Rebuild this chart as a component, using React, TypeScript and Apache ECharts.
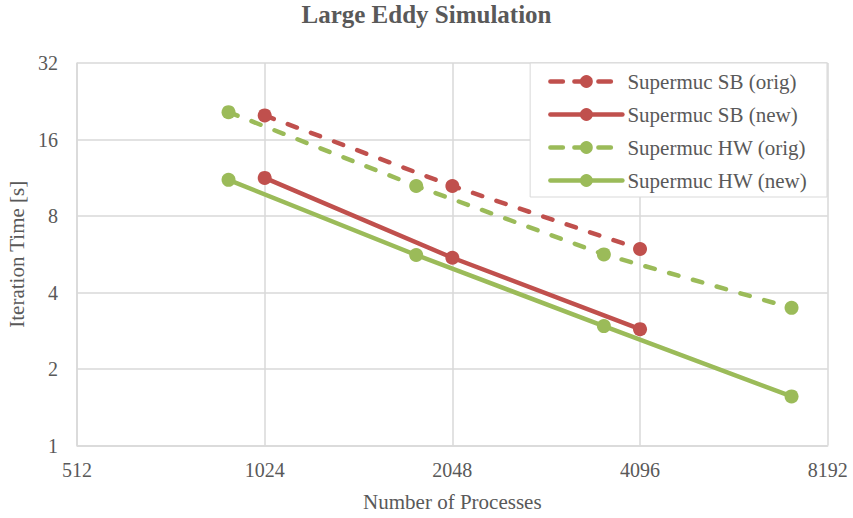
import React, { useEffect, useRef } from "react";
import * as echarts from "echarts";

const sbProcs = [1024, 2048, 4096];
const hwProcs = [896, 1792, 3584, 7168];
const sbOrig = [19.9, 10.5, 5.93];
const sbNew = [11.3, 5.48, 2.87];
const hwOrig = [20.5, 10.5, 5.65, 3.48];
const hwNew = [11.1, 5.62, 2.95, 1.56];
const seriesNames = ["Supermuc SB (orig)", "Supermuc SB (new)", "Supermuc HW (orig)", "Supermuc HW (new)"];
const seriesDashed = [true, false, true, false];

const RED = "#C0504D";
const GREEN = "#9BBB59";
const TEXT = "#595959";
const GRID = "#D9D9D9";
const FONT = "'Liberation Serif', 'Times New Roman', serif";

const pairs = (xs: number[], ys: number[]) => xs.map((x, i) => [x, ys[i]]);

export default function App() {
  const ref = useRef<HTMLDivElement>(null);
  useEffect(() => {
    if (!ref.current) return;
    const chart = echarts.init(ref.current, null, { renderer: "svg" });
    const dash = [9.7, 15];
    const legendDash = [12.5, 11.5];
    const mk = (name: string, xs: number[], ys: number[], color: string, dashed: boolean) => ({
      name,
      type: "line",
      data: pairs(xs, ys),
      symbol: "circle",
      symbolSize: 14,
      color,
      itemStyle: { color },
      lineStyle: { color, width: 4.5, type: dashed ? dash : "solid", cap: "round" },
    });
    chart.setOption({
      animation: false,
      title: {
        text: "Large Eddy Simulation",
        left: "center",
        top: 2,
        padding: 0,
        textStyle: { fontFamily: FONT, fontWeight: "bold", fontSize: 25, color: TEXT },
      },
      grid: { left: 77, right: 25.3, top: 63, bottom: 72.5, containLabel: false, outerBoundsMode: "none" },
      legend: {
        orient: "vertical",
        right: 26,
        top: 63,
        padding: [8, 20, 6, 18],
        itemWidth: 72,
        itemHeight: 16,
        itemGap: 12,
        backgroundColor: "#FFFFFF",
        borderColor: GRID,
        borderWidth: 1,
        borderRadius: 0,
        data: seriesNames.map((n, i) => ({
          name: n,
          lineStyle: { width: 4.5, type: seriesDashed[i] ? legendDash : "solid", cap: "round" },
        })),
        textStyle: { fontFamily: FONT, fontSize: 21, color: TEXT, lineHeight: 21 },
      },
      xAxis: {
        type: "log",
        logBase: 2,
        min: 512,
        max: 8192,
        name: "Number of Processes",
        nameLocation: "middle",
        nameGap: 46,
        nameTextStyle: { fontFamily: FONT, fontSize: 21, color: TEXT },
        axisLine: { show: true, lineStyle: { color: GRID, width: 1.5 } },
        axisTick: { show: false },
        splitLine: { show: true, lineStyle: { color: GRID, width: 1.5 } },
        axisLabel: {
          fontFamily: FONT,
          fontSize: 20,
          color: TEXT,
          margin: 14,
          formatter: (v: number) => String(Math.round(v)),
        },
      },
      yAxis: {
        type: "log",
        logBase: 2,
        min: 1,
        max: 32,
        name: "Iteration Time [s]",
        nameLocation: "middle",
        nameGap: 46,
        nameTextStyle: { fontFamily: FONT, fontSize: 21, color: TEXT },
        axisLine: { show: true, lineStyle: { color: GRID, width: 1.5 } },
        axisTick: { show: false },
        splitLine: { show: true, lineStyle: { color: GRID, width: 1.5 } },
        axisLabel: {
          fontFamily: FONT,
          fontSize: 20,
          color: TEXT,
          margin: 19,
          formatter: (v: number) => String(Math.round(v)),
        },
      },
      series: [
        mk(seriesNames[0], sbProcs, sbOrig, RED, seriesDashed[0]),
        mk(seriesNames[1], sbProcs, sbNew, RED, seriesDashed[1]),
        mk(seriesNames[2], hwProcs, hwOrig, GREEN, seriesDashed[2]),
        mk(seriesNames[3], hwProcs, hwNew, GREEN, seriesDashed[3]),
      ],
    });
    return () => chart.dispose();
  }, []);
  return (
    <div
      ref={ref}
      style={{ position: "absolute", left: 0, top: 0, width: 853, height: 518, background: "#FFFFFF" }}
    />
  );
}
